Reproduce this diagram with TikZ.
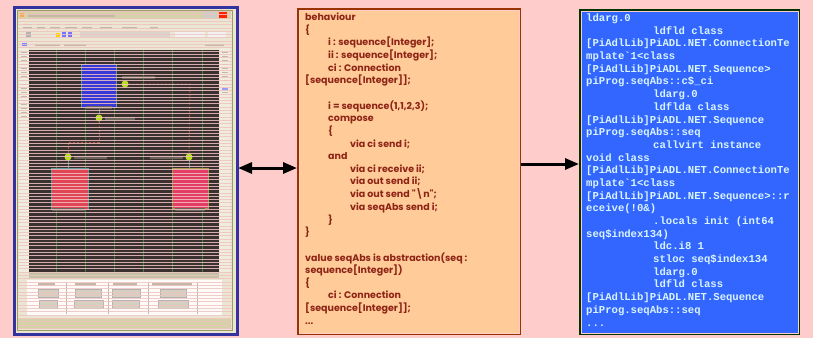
\documentclass[tikz,border=0pt]{standalone}
\usepackage{fontspec}
\newfontfamily\gothic{Poppins}
\newfontfamily\codemono{Liberation Mono}
\usetikzlibrary{arrows.meta}
\definecolor{bgpink}{HTML}{FFCCCC}
\definecolor{codebrown}{HTML}{993300}
\definecolor{codetxt}{HTML}{8E2416}
\definecolor{codeorange}{HTML}{FFCC99}
\definecolor{ilgreen}{HTML}{003300}
\definecolor{ilblue}{HTML}{3366FF}
\definecolor{iltext}{HTML}{D8F4FF}
\definecolor{shotframe}{HTML}{3333A0}
\definecolor{shotbeige}{HTML}{EAE6D2}
\definecolor{shotolive}{HTML}{9A9A6A}
\definecolor{canvasdark}{HTML}{3A3030}
\definecolor{gridgreen}{HTML}{3F7F3F}
\definecolor{stripe}{HTML}{F0C2C2}
\definecolor{faint}{HTML}{C4B8A8}
\definecolor{dotgreen}{HTML}{BBDD22}
\definecolor{boxblue}{HTML}{3838D8}
\definecolor{boxred}{HTML}{E04455}
\definecolor{tealline}{HTML}{5E9A9A}
\definecolor{oliveline}{HTML}{A89A48}
\definecolor{linkred}{HTML}{B05545}
\newcommand{\Ia}{\hspace*{23pt}}
\newcommand{\Ib}{\hspace*{45pt}}
\newcommand{\Ic}{\hspace*{67pt}}
\tikzset{
  shotpanel/.style={draw=shotframe, line width=2pt, fill=shotbeige, inner sep=0, anchor=north west, minimum width=222pt, minimum height=326pt},
  codepanel/.style={draw=codebrown, line width=2pt, fill=codeorange, inner sep=0, anchor=north west, minimum width=222pt, minimum height=325pt},
  ilpanel/.style={draw=ilgreen, line width=2pt, fill=ilblue, inner sep=0, anchor=north west, minimum width=219pt, minimum height=324pt},
  gapline/.style={bgpink, line width=0.9pt},
  bigarrow/.style={line width=3pt, black},
  dotnode/.style={circle, fill=dotgreen, inner sep=0, minimum size=7pt},
  faintbar/.style={fill=faint},
  canvasbar/.style={fill=black!45!faint},
  btn/.style={fill=shotbeige!80!gray, draw=gray!60},
}
\begin{document}
\begin{tikzpicture}[x=1pt,y=-1pt]
\fill[bgpink] (0,0) rectangle (813,338);
\useasboundingbox (0,0) rectangle (813,338);

% ---------- left panel: screenshot ----------
\node[shotpanel] (screen) at (14,7) {};
\draw[shotolive, line width=1pt] (17,10) rectangle (232,330);
% title bar
\fill[shotbeige!80!olive] (18,11) rectangle (231,19);
\fill[orange!70] (20,13) rectangle (24,17);
\fill[faint] (28,14) rectangle (115,17);
\fill[gray!40] (204,12) rectangle (210,18);
\fill[gray!40] (211,12) rectangle (217,18);
\fill[red!75!orange] (219,12) rectangle (227,18);
% menu
\foreach \a/\b in {23/32,37/45,50/60,65/77,82/92,100/112,122/137,150/158}{
  \fill[faint] (\a,23.5) rectangle (\b,25);
  \fill[faint] (\a,27) rectangle (\b,28.5);
}
% toolbar
\fill[blue!50!yellow!60] (26,32) rectangle (31,37);
\fill[yellow!70!orange] (56,33) rectangle (60,37);
\fill[blue!55] (62,32) rectangle (66,37);
\fill[blue!55] (68,32) rectangle (72,37);
\fill[faint!60] (80,32) rectangle (170,37);
\fill[white!90!gray] (175,32) rectangle (205,37);
\fill[white!90!gray] (208,32) rectangle (226,37);
% row under toolbar
\fill[blue!50] (22,43) rectangle (27,46);
\fill[faint] (35,43.5) rectangle (60,45.5);
\fill[faint] (64,43.5) rectangle (86,45.5);
\fill[faint] (205,43.5) rectangle (224,45.5);
% side rulers
\fill[shotbeige!70!white] (19,48) rectangle (29,272);
\fill[shotbeige!70!white] (220,48) rectangle (230,272);
\foreach \k in {0,...,16}{ \fill[faint] (21,{52+4*\k}) rectangle (27,{53.2+4*\k}); }
\foreach \k in {0,...,10}{ \fill[faint] (222,{52+4*\k}) rectangle (228,{53.2+4*\k}); }
\fill[blue!40] (222,88) rectangle (228,90);
% canvas
\fill[canvasdark] (29,50) rectangle (219,272);
\foreach \gx in {56,85,114,143,172,202}{ \draw[gridgreen, line width=1pt] (\gx,50) -- (\gx,272); }
% boxes
\node[draw=tealline, line width=1pt, fill=boxblue, minimum width=35pt, minimum height=43pt, inner sep=0, anchor=north west] (bluebox) at (81,64) {};
\node[draw=tealline, line width=1pt, fill=boxred, minimum width=37pt, minimum height=41pt, inner sep=0, anchor=north west] (redleft) at (51,168) {};
\node[draw=oliveline, line width=1pt, fill=boxred!90!magenta, minimum width=36pt, minimum height=40pt, inner sep=0, anchor=north west] (redright) at (172,168) {};
% dots
\node[dotnode] (dA) at (125,84) {};
\node[dotnode] (dB) at (99,118) {};
\node[dotnode] (dC) at (68,157) {};
\node[dotnode] (dD) at (189,157) {};
\coordinate (kA) at (190,84);
\coordinate (kB) at (99,142);
\coordinate (kC) at (68,142);
% links
\draw[tealline, line width=1pt] (bluebox.east |- dA) -- (dA);
\draw[tealline, line width=1pt] (bluebox.south -| dB) -- (dB);
\draw[tealline, line width=1pt] (dC) -- (redleft.north -| dC);
\draw[tealline, line width=1pt] (dD) -- (redright.north -| dD);
\draw[linkred, line width=1pt, dash pattern=on 2pt off 2pt] (dA) -- (kA) -- (dD);
\draw[linkred, line width=1pt, dash pattern=on 2pt off 2pt] (dB) -- (kB) -- (kC) -- (dC);
% faint labels
\fill[canvasbar] (122,76) rectangle (155,79);
\fill[canvasbar] (105,117) rectangle (135,120);
\fill[canvasbar] (74,156) rectangle (107,159);
\fill[canvasbar] (150,156) rectangle (183,159);
\fill[canvasbar] (86,106) rectangle (112,109);
\fill[canvasbar] (52,208) rectangle (85,211);
\fill[canvasbar] (175,208) rectangle (205,211);
% status bar and bottom panel
\fill[shotolive!60] (29,272) rectangle (219,278);
\fill[white!85!shotbeige] (27,280) rectangle (222,316);
\foreach \sx in {66,108,148,197}{ \draw[faint, line width=0.6pt] (\sx,282) -- (\sx,314); }
\foreach \a/\b in {38/55,75/96,113/137,152/192}{ \fill[faint] (\a,283) rectangle (\b,285.5); }
\foreach \a/\b in {38/58,75/101,112/140,160/186}{ \fill[btn] (\a,289) rectangle (\b,297); }
\foreach \a/\b in {39/57,74/103,112/139,158/188}{ \fill[btn] (\a,300) rectangle (\b,308); }
\fill[shotbeige!80!olive] (18,319) rectangle (231,329);
% interlace stripes
\foreach \k in {0,...,96}{ \draw[stripe, line width=0.9pt, opacity=0.85] (17.5,{11.5+3.3*\k}) -- (231.5,{11.5+3.3*\k}); }
\draw[shotframe, line width=2pt] (screen.north west) rectangle (screen.south east);

% ---------- middle panel: source code ----------
\node[codepanel] (code) at (297,8) {};
\draw[gapline] ([shift={(2,2)}]code.north west) rectangle ([shift={(-2,-2)}]code.south east);
\node[anchor=base west, inner sep=0, text=codetxt, font=\gothic\bfseries\fontsize{9.5}{12.65}\selectfont] (codetext) at (305,20.5) {%
\begin{tabular}[t]{@{}l@{}}
behaviour\\
\{\\
\Ia i : sequence[Integer];\\
\Ia ii : sequence[Integer];\\
\Ia ci : Connection\\
{}[sequence[Integer]];\\
{}\\
\Ia i = sequence(1,1,2,3);\\
\Ia compose\\
\Ia \{\\
\Ib via ci send i;\\
\Ia and\\
\Ib via ci receive ii;\\
\Ib via out send ii;\\
\Ib via out send "\textbackslash n";\\
\Ib via seqAbs send i;\\
\Ia \}\\
\}\\
{}\\
value seqAbs is abstraction(seq :\\
sequence[Integer])\\
\{\\
\Ia ci : Connection\\
{}[sequence[Integer]];\\
...
\end{tabular}};

% ---------- right panel: IL code ----------
\node[ilpanel] (il) at (579,9) {};
\draw[gapline] ([shift={(2,2)}]il.north west) rectangle ([shift={(-2,-2)}]il.south east);
\node[anchor=base west, inner sep=0, text=iltext, font=\codemono\bfseries\fontsize{10.6}{12.69}\selectfont] (iltextnode) at (586,21.5) {%
\begin{tabular}[t]{@{}l@{}}
ldarg.0\\
\Ic ldfld class\\
{}[PiAdlLib]PiADL.NET.ConnectionTe\\
mplate\textasciigrave 1<class\\
{}[PiAdlLib]PiADL.NET.Sequence>\\
piProg.seqAbs::c\$\_ci\\
\Ic ldarg.0\\
\Ic ldflda class\\
{}[PiAdlLib]PiADL.NET.Sequence\\
piProg.seqAbs::seq\\
\Ic callvirt instance\\
void class\\
{}[PiAdlLib]PiADL.NET.ConnectionTe\\
mplate\textasciigrave 1<class\\
{}[PiAdlLib]PiADL.NET.Sequence>::r\\
eceive(!0\&)\\
\Ic .locals init (int64\\
seq\$index134)\\
\Ic ldc.i8 1\\
\Ic stloc seq\$index134\\
\Ic ldarg.0\\
\Ic ldfld class\\
{}[PiAdlLib]PiADL.NET.Sequence\\
piProg.seqAbs::seq\\
...
\end{tabular}};

% ---------- arrows ----------
\draw[bigarrow, {Triangle[length=14pt,width=11pt]}-{Triangle[length=14pt,width=11pt]}] ([yshift=3pt]screen.east) -- ([yshift=3pt]screen.east -| code.west);
\draw[bigarrow, -{Triangle[length=14pt,width=11pt]}] ([yshift=7.5pt]code.east) -- ([yshift=7.5pt]code.east -| il.west);
\end{tikzpicture}
\end{document}
